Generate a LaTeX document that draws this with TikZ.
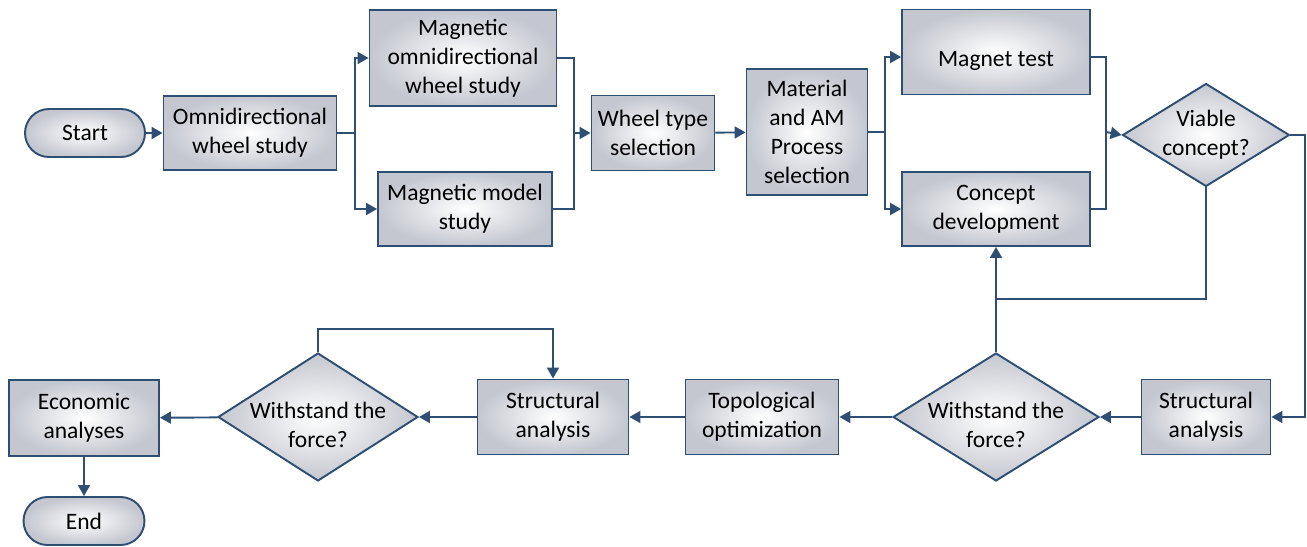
\documentclass[tikz,border=0pt]{standalone}
\usepackage{fontspec}
\setmainfont{Carlito}
\usepackage{tikz}
\usetikzlibrary{arrows.meta}
\usetikzlibrary{shapes.geometric}

\definecolor{flowblue}{RGB}{46,78,115}
\definecolor{flowgray}{RGB}{196,199,207}

\tikzset{
    flowbox/.style={rectangle, draw=flowblue, line width=1.1pt, shading=radial,
        inner color=white, outer color=flowgray, align=center, inner sep=1pt},
    flowterm/.style={flowbox, rounded corners=0.48cm, minimum width=2.4cm, minimum height=0.96cm},
    flowdec/.style={diamond, draw=flowblue, line width=1.1pt, shading=radial,
        inner color=white, outer color=flowgray, align=center, inner sep=0pt, shape aspect=1.62},
    flowline/.style={draw=flowblue, line width=1.1pt},
    flowarrow/.style={flowline, -{Triangle[length=2.2mm,width=2.4mm]}}
}
% lowers the text of a decision a little
\newcommand{\lowtext}{\rule{0pt}{18pt}}

\begin{document}
\begin{tikzpicture}[x=0.02cm, y=-0.02cm, font=\fontsize{13.4}{16.5}\selectfont]
                \useasboundingbox (0,0) rectangle (1307,547);
                %top row
                \node[flowterm] (start) at (85,133) {Start};
                \node[flowbox, minimum width=3.46cm, minimum height=1.48cm] (omni) at (250,133) {Omnidirectional\\wheel study};
                \node[flowbox, minimum width=3.74cm, minimum height=1.92cm] (magomni) at (463,58) {Magnetic\\omnidirectional\\wheel study};
                \node[flowbox, minimum width=3.48cm, minimum height=1.48cm] (magmodel) at (465,209) {Magnetic model\\study};
                \node[flowbox, minimum width=2.46cm, minimum height=1.5cm] (wheel) at (653,133) {Wheel type\\selection};
                \node[flowbox, minimum width=2.42cm, minimum height=2.52cm] (material) at (807,132) {Material\\and AM\\Process\\selection};
                \node[flowbox, minimum width=3.76cm, minimum height=1.7cm, text height=19pt, text depth=3pt] (magnet) at (996,52) {Magnet test};
                \node[flowbox, minimum width=3.76cm, minimum height=1.48cm] (concept) at (996,209) {Concept\\development};
                \node[flowdec, minimum width=3.32cm, minimum height=2.02cm] (viable) at (1206,135) {Viable\\concept?};
                %bottom row
                \node[flowbox, minimum width=2.58cm, minimum height=1.5cm] (structR) at (1206,417) {Structural\\analysis};
                \node[flowdec, inner sep=-8pt, minimum width=4.12cm, minimum height=2.56cm] (forceR) at (996,417) {\lowtext Withstand the\\force?};
                \node[flowbox, minimum width=3.06cm, minimum height=1.5cm] (topo) at (762,417) {Topological\\optimization};
                \node[flowbox, minimum width=3.02cm, minimum height=1.5cm] (structL) at (553,417) {Structural\\analysis};
                \node[flowdec, inner sep=-8pt, minimum width=4.0cm, minimum height=2.56cm] (forceL) at (318,417) {\lowtext Withstand the\\force?};
                \node[flowbox, minimum width=3.0cm, minimum height=1.52cm] (econ) at (84,418) {Economic\\analyses};
                \node[flowterm, minimum width=2.42cm] (finish) at (84,521) {End};
                %junctions
                \coordinate (split1) at (355,133);
                \coordinate (merge1) at (574,133);
                \coordinate (split2) at (885,132);
                \coordinate (merge2) at (1106,132);
                \coordinate (back) at (996,299);
                %arrows
                \draw[flowarrow] (start) -- (omni);
                \draw[flowline] (omni) -- (split1);
                \draw[flowarrow] (split1) |- (magomni);
                \draw[flowarrow] (split1) |- (magmodel);
                \draw[flowline] (magomni.east) -| (merge1);
                \draw[flowline] (magmodel.east) -| (merge1);
                \draw[flowarrow] (merge1) -- (wheel);
                \draw[flowarrow] (wheel) -- (material);
                \draw[flowline] (material.east |- split2) -- (split2);
                \draw[flowarrow] (split2) |- (magnet.west |- 0,57);
                \draw[flowarrow] (split2) |- (concept);
                \draw[flowline] (magnet.east |- 0,57) -| (merge2);
                \draw[flowline] (concept.east) -| (merge2);
                \draw[flowarrow] (merge2) -- (viable.west);
                \draw[flowarrow] (viable.east) -- ++(15,0) |- (structR.east);
                \draw[flowline] (viable.south) |- (back);
                \draw[flowarrow] (forceR.north) -- (concept.south);
                \draw[flowarrow] (structR) -- (forceR);
                \draw[flowarrow] (forceR) -- (topo);
                \draw[flowarrow] (topo) -- (structL);
                \draw[flowarrow] (structL) -- (forceL);
                \draw[flowarrow] (forceL.north) -- ++(0,-23) -| (structL.north);
                \draw[flowarrow] (forceL) -- (econ);
                \draw[flowarrow] (econ) -- (finish);
\end{tikzpicture}
\end{document}
